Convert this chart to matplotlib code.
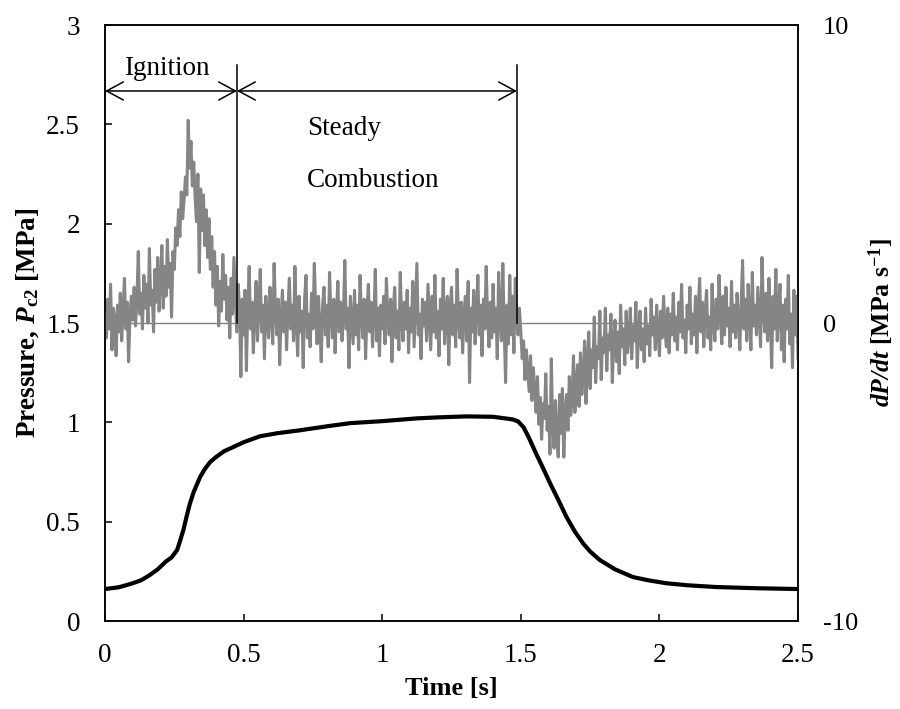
import matplotlib.pyplot as plt

plt.rcParams['font.family'] = ['Liberation Serif', 'DejaVu Serif']
plt.rcParams['mathtext.fontset'] = 'custom'
plt.rcParams['mathtext.rm'] = 'Liberation Serif'
plt.rcParams['mathtext.it'] = 'Liberation Serif:italic'
plt.rcParams['mathtext.bf'] = 'Liberation Serif:bold'
plt.rcParams['mathtext.bfit'] = 'Liberation Serif:italic:bold'

# chamber pressure Pc2 [MPa]
t_pc = [0, 0.05, 0.10, 0.13, 0.16, 0.19, 0.22, 0.24, 0.26, 0.27, 0.283, 0.295,
        0.306, 0.32, 0.343, 0.36, 0.379, 0.40, 0.43, 0.463, 0.5, 0.559, 0.62,
        0.703, 0.8, 0.884, 1.0, 1.125, 1.2, 1.305, 1.4, 1.47, 1.49, 1.51, 1.53,
        1.556, 1.58, 1.605, 1.635, 1.665, 1.695, 1.725, 1.75, 1.785, 1.84,
        1.905, 1.96, 2.025, 2.1, 2.205, 2.35, 2.5]
pc = [0.161, 0.17, 0.19, 0.205, 0.23, 0.26, 0.30, 0.32, 0.357, 0.40, 0.46, 0.53,
      0.59, 0.65, 0.725, 0.765, 0.80, 0.825, 0.855, 0.876, 0.90, 0.93, 0.945,
      0.96, 0.98, 0.996, 1.006, 1.02, 1.025, 1.03, 1.028, 1.015, 1.005, 0.975,
      0.92, 0.84, 0.77, 0.695, 0.61, 0.523, 0.45, 0.39, 0.35, 0.307, 0.26,
      0.221, 0.205, 0.19, 0.18, 0.171, 0.165, 0.161]

# dP/dt [MPa/s], one sample every 0.005 s (each row = 0.05 s)
dpdt = [
    0.3, -0.5, 0.8, -0.2, 1.3, -0.9, 0.5, 0.1, -1.1, 0.6,
    -0.3, 1.0, -0.6, 0.4, 1.5, -0.2, 0.7, -1.3, 0.2, 0.9,
    0.1, 1.2, -0.1, 0.8, 2.4, 0.3, 1.0, -0.2, 1.6, 0.5,
    1.3, 0.0, 2.5, 0.6, 1.1, -0.3, 1.8, 0.7, 2.2, 0.4,
    1.4, 2.6, 0.5, 1.9, 0.9, 2.8, 1.2, 2.0, 0.2, 2.4,
    1.8, 3.2, 2.6, 3.8, 2.9, 4.4, 3.5, 4.1, 4.9, 4.3,
    6.8, 5.2, 6.1, 4.6, 5.4, 4.2, 3.4, 5.0, 1.7, 4.5,
    3.1, 4.3, 2.6, 3.8, 2.2, 3.5, 1.8, 2.9, 1.2, 2.4,
    0.6, 1.9, -0.1, 1.4, 0.4, 2.3, 0.8, 1.6, 0.1, 1.2,
    -0.5, 1.5, 0.3, 2.2, 0.9, -0.3, 1.3, 0.6, -1.8, 0.8,
    -0.4, 1.1, -1.6, 0.5, 1.9, -0.2, 0.7, -1.0, 0.3, 1.4,
    -0.6, 0.5, 1.8, -0.3, 0.6, -1.2, 0.9, 0.1, -0.5, 1.2,
    0.3, -0.7, 2.0, 0.4, -0.4, 0.8, -1.4, 0.2, 1.1, -0.3,
    0.7, -0.9, 0.5, 1.5, -0.2, 0.6, -0.6, 1.9, 0.0, -1.1,
    0.9, -0.3, 0.4, -1.5, 0.8, 1.6, -0.5, 0.3, -0.8, 1.0,
    -0.2, 2.0, 0.5, -0.7, 0.9, -0.1, -1.3, 0.6, 1.2, -0.4,
    0.6, -0.8, 1.7, 0.2, -0.5, 0.8, -1.0, 0.4, 1.4, -0.3,
    0.7, -0.6, 0.3, 2.1, -0.2, 0.5, -1.5, 0.9, 0.1, -0.7,
    1.1, -0.4, 0.6, -0.9, 1.6, 0.2, -0.5, 0.8, -1.2, 0.4,
    1.3, -0.3, 0.7, -0.8, 0.2, 1.8, -0.6, 0.5, -1.1, 0.6,
    -0.2, 0.9, -0.7, 1.5, 0.3, -0.4, 0.8, -1.3, 0.5, 1.2,
    -0.5, 0.4, -0.9, 1.7, 0.1, -0.6, 0.7, -0.2, 1.1, -1.0,
    0.5, -0.3, 1.4, -0.8, 0.6, 2.0, -0.4, 0.3, -1.2, 0.8,
    -0.1, 0.7, -0.6, 1.3, 0.2, -0.9, 0.9, -0.3, 1.6, -0.5,
    0.4, -1.1, 0.8, -0.2, 1.5, -0.7, 0.3, 0.9, -1.4, 0.5,
    1.2, -0.4, 0.6, -0.8, 1.8, 0.1, -0.5, 0.7, -1.0, 0.3,
    0.9, -0.6, 1.4, -2.0, 0.5, -0.3, 1.1, -0.7, 0.4, 1.6,
    -0.4, 0.6, -1.1, 0.8, -0.2, 1.9, 0.2, -0.8, 0.7, -0.5,
    1.3, -0.3, 0.5, -1.2, 1.7, 0.1, -0.6, 2.0, -0.2, -2.0,
    0.6, -0.7, 1.6, -0.4, 0.9, -1.0, 1.5, 0.2, -0.4, 0.5,
    -0.3, -1.2, -0.6, -1.9, -0.9, -1.6, -2.3, -1.1, -2.6, -1.5,
    -2.2, -3.0, -1.8, -3.4, -2.5, -3.9, -2.7, -3.2, -1.7, -3.6,
    -2.8, -4.4, -1.2, -3.5, -4.2, -2.6, -3.9, -4.5, -2.4, -3.7,
    -2.2, -4.5, -3.0, -2.4, -3.6, -1.8, -3.1, -2.5, -1.1, -3.0,
    -2.0, -1.4, -2.8, -1.0, -2.4, -1.7, -0.6, -2.7, -1.3, -0.3,
    -2.2, -0.9, -1.5, 0.2, -2.0, -0.8, -1.2, 0.4, -1.9, -0.5,
    -1.0, 0.5, -1.6, -0.4, -0.9, 0.3, -2.0, -0.6, 0.1, -1.3,
    -0.3, -1.7, 0.6, -0.8, -0.2, -1.4, 0.4, -1.0, -0.5, 0.5,
    -1.2, -0.1, -0.6, 0.7, -1.5, -0.3, 0.4, -0.9, -0.2, -1.3,
    0.5, -0.7, -0.1, -1.1, 0.8, -0.4, 0.2, -0.9, 0.6, -0.3,
    -1.1, 0.4, -0.5, 0.9, -0.2, -0.8, 0.5, -1.0, 0.3, -0.4,
    1.0, -0.6, 0.2, -0.9, 0.7, -0.3, 1.3, -0.5, 0.1, -1.0,
    0.6, -0.2, 1.2, -0.7, 0.3, -0.4, 0.9, -1.0, 0.5, 1.5,
    -0.3, 0.7, -0.8, 0.4, 1.1, -0.5, 0.2, -0.9, 1.3, 0.0,
    -0.6, 0.8, -0.2, 1.6, 0.3, -0.7, 0.9, -0.4, 1.2, -0.1,
    0.5, -0.8, 1.4, -0.3, 0.6, -0.5, 1.0, 0.2, -0.9, 0.7,
    2.1, -0.2, 0.8, -0.6, 1.3, 0.3, -0.9, 1.7, -0.1, 0.6,
    -0.4, 1.2, 0.2, -0.8, 2.2, 0.4, -0.3, 1.0, -0.6, 1.5,
    0.1, -1.5, 0.9, -0.2, 1.8, -0.6, 0.4, 1.3, -0.9, 0.6,
    -1.3, 0.8, -0.2, 1.6, -0.7, 0.3, -1.5, 1.1, -0.4, 0.9,
    -1.2,
]
t_dpdt = [i * 0.005 for i in range(len(dpdt))]

# phase boundaries [s]
phase_t = [0.0, 0.476, 1.486]

fig, ax = plt.subplots(figsize=(9, 7.09), dpi=100)
fig.subplots_adjust(left=0.1167, right=0.8867, top=0.9647, bottom=0.1241)
ax2 = ax.twinx()

ax.plot(t_pc, pc, color='black', lw=3.0, solid_capstyle='round')
ax2.axhline(0, color='#808080', lw=1.0)
ax2.plot(t_dpdt, dpdt, color='#858585', lw=2.2)

# phase markers, drawn over the rate trace
for t in phase_t[1:]:
    ax2.plot([t, t], [1.5, 2.8], color='black', lw=1.1, transform=ax.transData)
for i in range(2):
    ax.annotate('', xy=(phase_t[i], 2.668), xytext=(phase_t[i + 1], 2.668),
                arrowprops=dict(arrowstyle='<->,head_length=1.2,head_width=0.65',
                                color='black', lw=1.1, shrinkA=0, shrinkB=0))
ax.text(0.222, 2.748, 'Ignition', ha='center', va='baseline', fontsize=19.5)
ax.text(0.728, 2.446, 'Steady', ha='left', va='baseline', fontsize=19.5)
ax.text(0.728, 2.185, 'Combustion', ha='left', va='baseline', fontsize=19.5)

ax.set_xlim(0, 2.5)
ax.set_ylim(0, 3)
ax2.set_ylim(-10, 10)
ax.set_xticks([0, 0.5, 1, 1.5, 2, 2.5])
ax.set_xticklabels(['0', '0.5', '1', '1.5', '2', '2.5'])
ax.set_yticks([0, 0.5, 1, 1.5, 2, 2.5, 3])
ax.set_yticklabels(['0', '0.5', '1', '1.5', '2', '2.5', '3'])
ax2.set_yticks([-10, 0, 10])
ax2.set_yticklabels(['-10', '0', '10'])

ax.tick_params(axis='both', direction='in', length=5, width=1.1, labelsize=19.5)
ax.tick_params(axis='y', pad=18)
ax.tick_params(axis='x', pad=16)
ax2.tick_params(axis='y', length=0, labelsize=19, pad=18)
for a in (ax, ax2):
    for s in a.spines.values():
        s.set_linewidth(1.1)

ax.set_xlabel('Time [s]', fontsize=19, fontweight='bold', labelpad=6)
ax.set_ylabel(r'Pressure, $\mathbfit{P}_{\mathbf{c2}}$ [MPa]', fontsize=19.5,
              fontweight='bold', labelpad=4)
ax2.set_ylabel(r'$\mathbfit{dP/dt}$ [MPa s$^{\mathbf{-1}}$]', fontsize=18.5,
               fontweight='bold', labelpad=6)

fig.savefig('out.png', dpi=100)
